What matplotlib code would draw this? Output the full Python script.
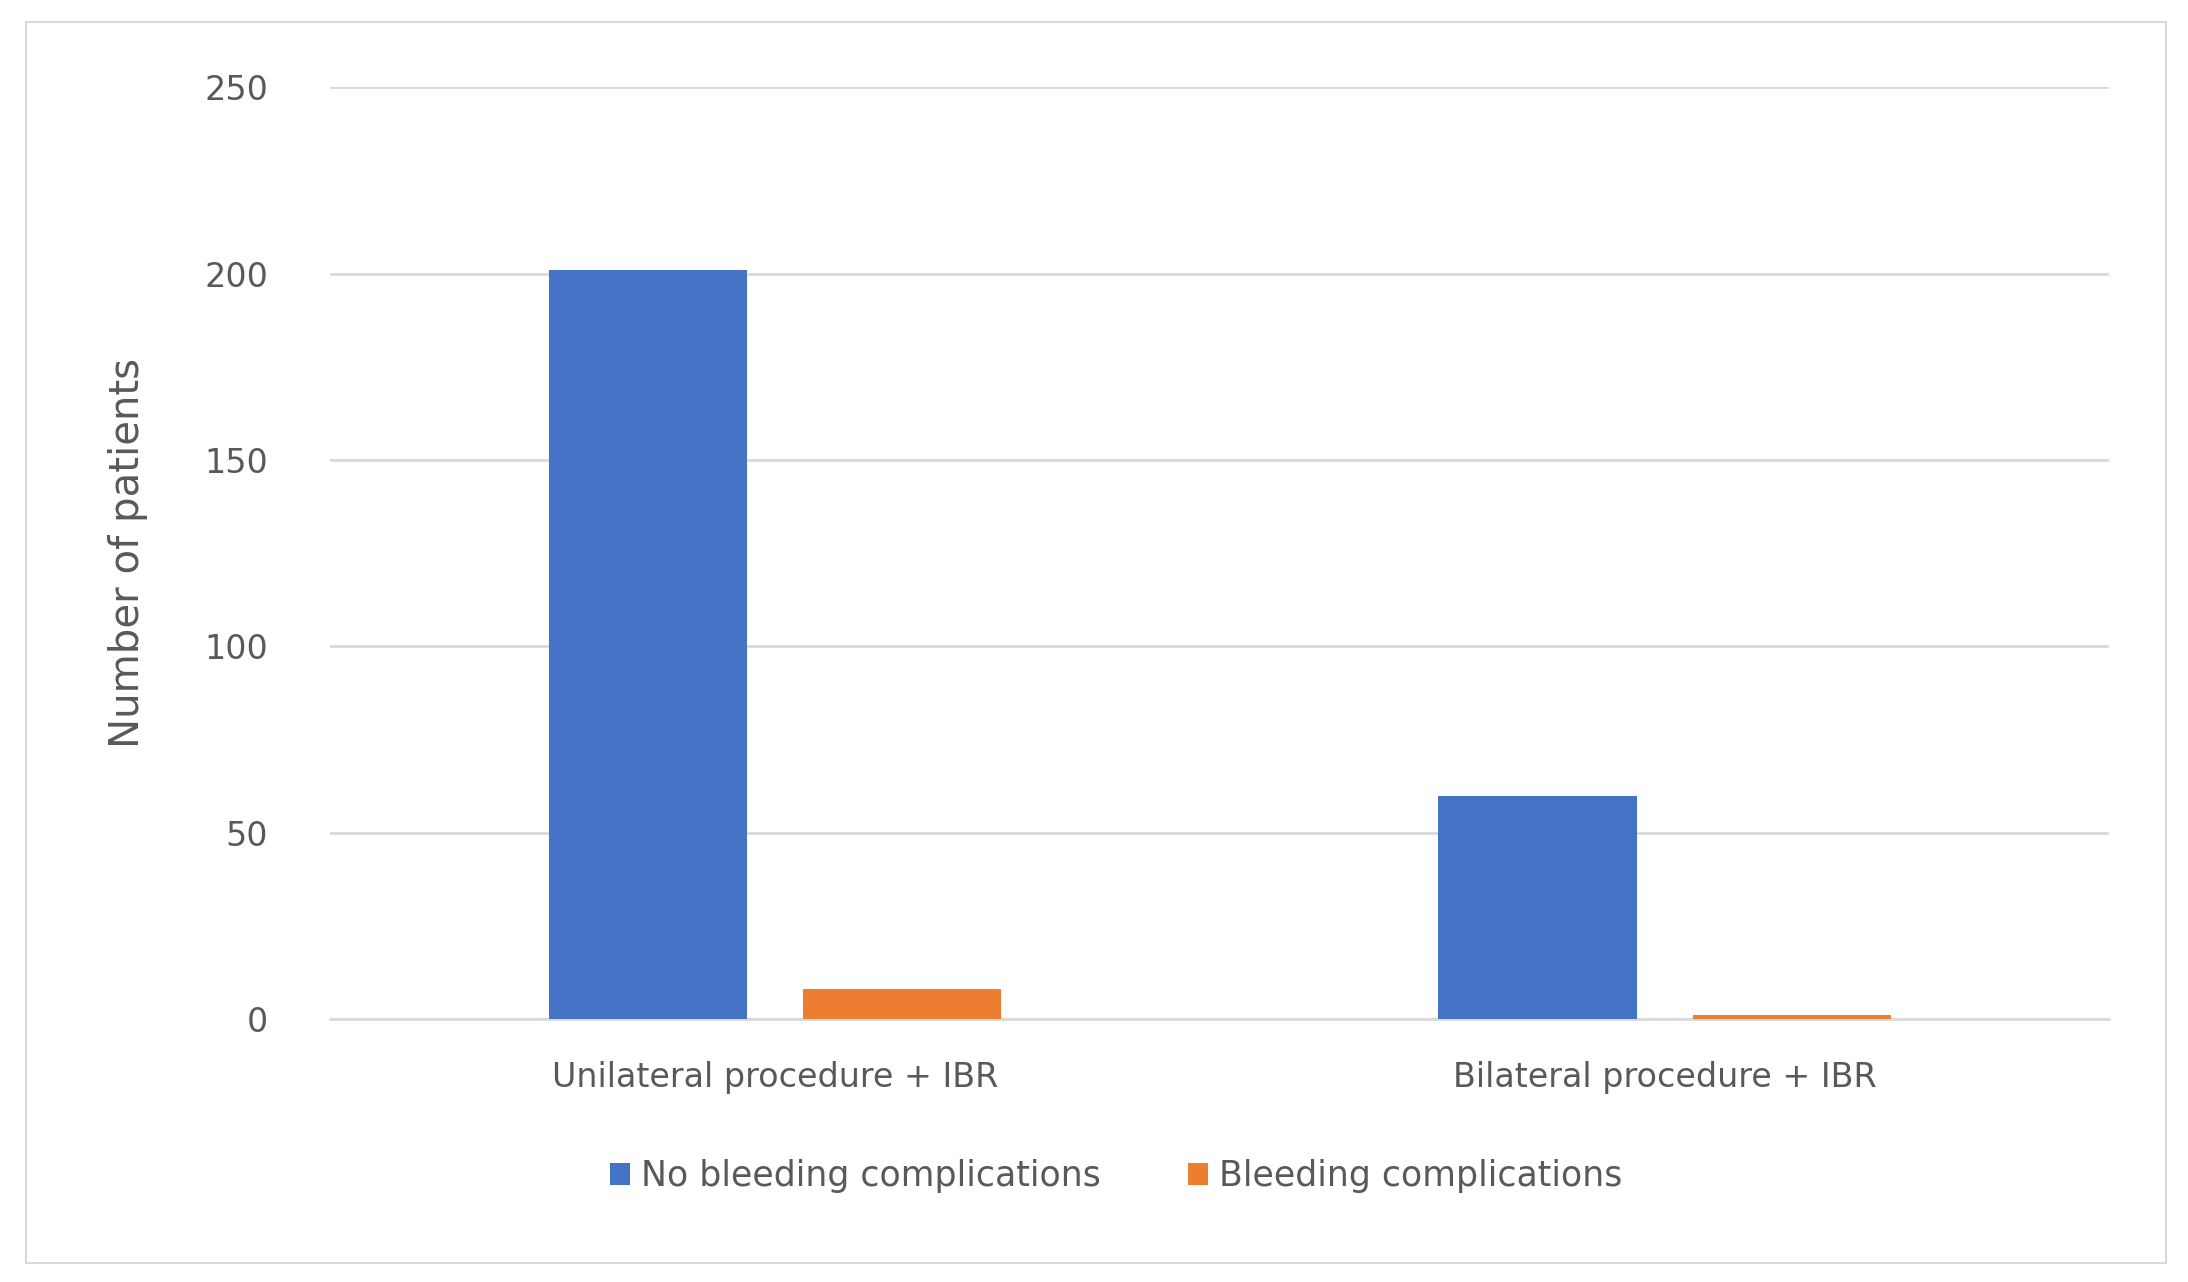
import matplotlib.pyplot as plt
import numpy as np

categories = ["Unilateral procedure + IBR", "Bilateral procedure + IBR"]
no_bleeding = [201, 60]
bleeding = [8, 1]

fig = plt.figure(figsize=(21.88, 12.82), dpi=100)
ax = fig.add_axes([0.151, 0.205, 0.813, 0.727])

# light border around the whole chart
fig.patches.append(plt.Rectangle((0.012, 0.015), 0.978, 0.968, transform=fig.transFigure,
                                 fill=False, edgecolor="#d9d9d9", linewidth=1.5))

x = np.arange(len(categories))
w = 0.223
ax.bar(x - 0.143, no_bleeding, w, color="#4472c4", label="No bleeding complications", zorder=3)
ax.bar(x + 0.143, bleeding, w, color="#ed7d31", label="Bleeding complications", zorder=3)

ax.set_xlim(-0.5, 1.5)
ax.set_ylim(0, 250)
ax.set_yticks(range(0, 251, 50))
ax.set_xticks(x)
ax.set_xticklabels(categories)
ax.yaxis.grid(True, color="#d9d9d9", linewidth=2)
ax.set_axisbelow(True)
for s in ax.spines.values():
    s.set_visible(False)
ax.spines["bottom"].set_visible(True)
ax.spines["bottom"].set_color("#d9d9d9")
ax.spines["bottom"].set_linewidth(2)
ax.tick_params(length=0, labelsize=24, colors="#595959", pad=30)
ax.tick_params(axis="y", pad=45)
ax.set_ylabel("Number of patients", fontsize=29, color="#595959", labelpad=40)

fig.legend(loc="lower center", bbox_to_anchor=(0.51, 0.045), ncol=2, frameon=False,
           fontsize=25, labelcolor="#595959", handlelength=0.6, handleheight=0.6,
           handletextpad=0.3, columnspacing=2.5)

fig.savefig("out.png")
